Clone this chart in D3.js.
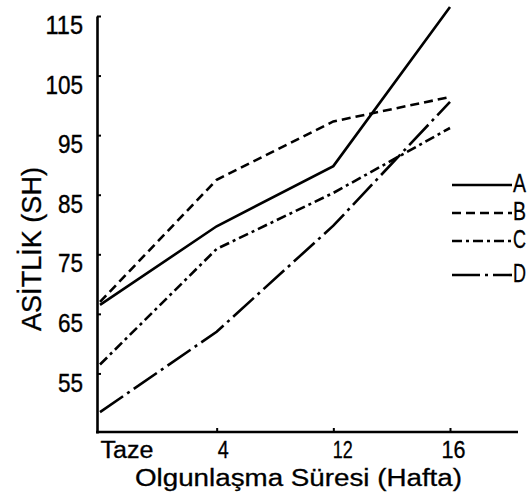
<!DOCTYPE html>
<html>
<head>
<meta charset="utf-8">
<script src="https://cdn.jsdelivr.net/npm/d3@7"></script>
<style>
  html, body { margin: 0; padding: 0; background: #fff; }
  svg { display: block; }
  text { font-family: "Liberation Sans", "DejaVu Sans", sans-serif; fill: #000; }
</style>
</head>
<body>
<svg id="chart" width="531" height="500"></svg>
<script>
// ---- data ----
const weeks = ["Taze", "4", "12", "16"];
const seriesNames = ["A", "B", "C", "D"];
const valuesA = [66.5, 79.7, 89.8, 116.5];
const valuesB = [67.0, 87.5, 97.3, 101.4];
const valuesC = [56.5, 75.9, 85.3, 96.2];
const valuesD = [48.5, 62.0, 79.8, 100.6];
const yTicks = [55, 65, 75, 85, 95, 105, 115];
const yTitle = "ASİTLİK (SH)";
const xTitle = "Olgunlaşma Süresi (Hafta)";

const series = [
  { name: seriesNames[0], values: valuesA, dash: null },
  { name: seriesNames[1], values: valuesB, dash: "9,5" },
  { name: seriesNames[2], values: valuesC, dash: "10,4,3,4" },
  { name: seriesNames[3], values: valuesD, dash: "28,5,3,5" }
];

const svg = d3.select("#chart");

const x = d3.scalePoint().domain(weeks).range([100, 450]).padding(0);
const y = d3.scaleLinear().domain([45, 115]).range([433, 16]);

// y axis
const yAxis = d3.axisLeft(y).tickValues(yTicks).tickSizeInner(-4).tickSizeOuter(0).tickPadding(14);
const gy = svg.append("g").attr("transform", "translate(97,0)").call(yAxis);
gy.select(".domain").attr("stroke", "#000").attr("stroke-width", 2.6);
gy.selectAll(".tick line").attr("stroke", "#000").attr("stroke-width", 2);
gy.selectAll(".tick text")
  .attr("font-size", 26)
  .attr("dy", "0.68em")
  .attr("textLength", d => String(d).length * 12.5)
  .attr("lengthAdjust", "spacingAndGlyphs")
  .attr("stroke", "#000").attr("stroke-width", 0.4)
  .attr("fill", "#000");

// x axis
const xAxis = d3.axisBottom(x).tickSizeInner(-4).tickSizeOuter(0).tickPadding(9);
const gx = svg.append("g").attr("transform", "translate(0,432)").call(xAxis);
gx.select(".domain").remove();
gx.append("line")
  .attr("x1", 96).attr("x2", 518).attr("y1", 0).attr("y2", 0)
  .attr("stroke", "#000").attr("stroke-width", 2.6);
gx.selectAll(".tick line").attr("stroke", "#000").attr("stroke-width", 2)
  .attr("opacity", (d, i) => i === 0 ? 0 : 1);
gx.selectAll(".tick text")
  .attr("font-size", 23)
  .attr("dy", "0.72em")
  .attr("text-anchor", (d, i) => i === 0 ? "start" : "middle")
  .attr("dx", (d, i) => [0, 6, 9, 3][i])
  .attr("textLength", (d, i) => [53, 11, 20, 24][i])
  .attr("lengthAdjust", "spacingAndGlyphs")
  .attr("stroke", "#000").attr("stroke-width", 0.3)
  .attr("fill", "#000");

// axis titles
svg.append("text")
  .attr("transform", "translate(41,249) rotate(-90)")
  .attr("text-anchor", "middle")
  .attr("font-size", 27)
  .attr("textLength", 164)
  .attr("lengthAdjust", "spacingAndGlyphs")
  .attr("stroke", "#000").attr("stroke-width", 0.3)
  .text(yTitle);

svg.append("text")
  .attr("x", 135).attr("y", 486)
  .attr("font-size", 23)
  .attr("textLength", 327)
  .attr("lengthAdjust", "spacingAndGlyphs")
  .attr("stroke", "#000").attr("stroke-width", 0.3)
  .text(xTitle);

// lines
const line = d3.line().x((d, i) => x(weeks[i])).y(d => y(d));
svg.append("g").selectAll("path").data(series).join("path")
  .attr("d", d => line(d.values))
  .attr("fill", "none")
  .attr("stroke", "#000")
  .attr("stroke-width", 2.6)
  .attr("stroke-dasharray", d => d.dash);

// legend
const legendY = [185, 213, 241, 275];
const lg = svg.append("g").selectAll("g").data(series).join("g")
  .attr("transform", (d, i) => `translate(452,${legendY[i]})`);
lg.append("line").attr("x1", 0).attr("x2", 60).attr("y1", 0).attr("y2", 0)
  .attr("stroke", "#000").attr("stroke-width", 2.6)
  .attr("stroke-dasharray", d => d.dash);
lg.append("text").attr("x", 61).attr("y", 7)
  .attr("font-size", 25)
  .attr("textLength", 13)
  .attr("lengthAdjust", "spacingAndGlyphs")
  .attr("stroke", "#000").attr("stroke-width", 0.3)
  .text(d => d.name);
</script>
</body>
</html>
